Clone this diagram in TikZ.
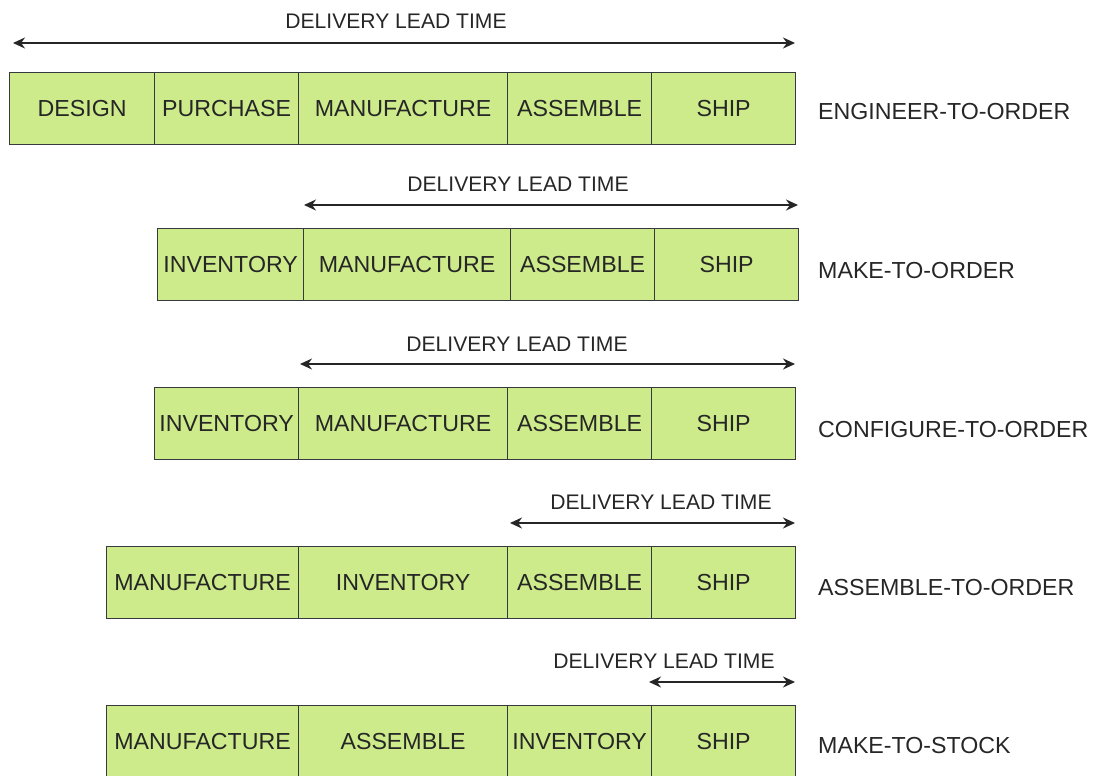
\documentclass[tikz,border=0pt]{standalone}
\usepackage{fontspec}
\setmainfont{Liberation Sans}
\usetikzlibrary{arrows.meta}
\definecolor{boxfill}{HTML}{CDEB8B}
\definecolor{boxline}{HTML}{36393D}
\definecolor{txt}{HTML}{262626}
\tikzset{
  stage/.style={draw=boxline, fill=boxfill, line width=1.2pt, anchor=north west,
    minimum height=72pt, inner sep=0pt, text=txt, font=\fontsize{23.2}{26}\selectfont},
  dlt/.style={text=txt, font=\fontsize{21.1}{24}\selectfont, inner sep=0pt},
  strat/.style={text=txt, font=\fontsize{23.2}{26}\selectfont, anchor=west, inner sep=0pt},
  leadarrow/.style={draw=black!85, line width=1.6pt,
    {Stealth[length=12pt,width=11pt]}-{Stealth[length=12pt,width=11pt]}}
}
\begin{document}
\begin{tikzpicture}[x=1pt,y=-1pt]
\useasboundingbox (0,0) rectangle (1098,776);
% Row 1
\node[stage, minimum width=145pt] (r1a) at (9,72) {DESIGN};
\node[stage, minimum width=144pt] (r1b) at (154,72) {PURCHASE};
\node[stage, minimum width=209pt] (r1c) at (298,72) {MANUFACTURE};
\node[stage, minimum width=144pt] (r1d) at (507,72) {ASSEMBLE};
\node[stage, minimum width=144pt] (r1e) at (651,72) {SHIP};
\node[strat] (s1) at (818,112) {ENGINEER-TO-ORDER};
\coordinate (a1l) at (13,43);
\coordinate (a1r) at (795,43);
\draw[leadarrow] (a1l) -- (a1r);
\node[dlt] (l1) at (396,21) {DELIVERY LEAD TIME};
% Row 2
\node[stage, minimum width=146pt] (r2a) at (157,228) {INVENTORY};
\node[stage, minimum width=207pt] (r2b) at (303,228) {MANUFACTURE};
\node[stage, minimum width=144pt] (r2c) at (510,228) {ASSEMBLE};
\node[stage, minimum width=144pt] (r2d) at (654,228) {SHIP};
\node[strat] (s2) at (818,271) {MAKE-TO-ORDER};
\coordinate (a2l) at (304,205);
\coordinate (a2r) at (798,205);
\draw[leadarrow] (a2l) -- (a2r);
\node[dlt] (l2) at (518,184) {DELIVERY LEAD TIME};
% Row 3
\node[stage, minimum width=144pt] (r3a) at (154,387) {INVENTORY};
\node[stage, minimum width=209pt] (r3b) at (298,387) {MANUFACTURE};
\node[stage, minimum width=144pt] (r3c) at (507,387) {ASSEMBLE};
\node[stage, minimum width=144pt] (r3d) at (651,387) {SHIP};
\node[strat] (s3) at (818,430) {CONFIGURE-TO-ORDER};
\coordinate (a3l) at (300,364);
\coordinate (a3r) at (795,364);
\draw[leadarrow] (a3l) -- (a3r);
\node[dlt] (l3) at (517,344) {DELIVERY LEAD TIME};
% Row 4
\node[stage, minimum width=192pt] (r4a) at (106,546) {MANUFACTURE};
\node[stage, minimum width=209pt] (r4b) at (298,546) {INVENTORY};
\node[stage, minimum width=144pt] (r4c) at (507,546) {ASSEMBLE};
\node[stage, minimum width=144pt] (r4d) at (651,546) {SHIP};
\node[strat] (s4) at (818,588) {ASSEMBLE-TO-ORDER};
\coordinate (a4l) at (510,523);
\coordinate (a4r) at (795,523);
\draw[leadarrow] (a4l) -- (a4r);
\node[dlt] (l4) at (661,502) {DELIVERY LEAD TIME};
% Row 5
\node[stage, minimum width=192pt] (r5a) at (106,705) {MANUFACTURE};
\node[stage, minimum width=209pt] (r5b) at (298,705) {ASSEMBLE};
\node[stage, minimum width=144pt] (r5c) at (507,705) {INVENTORY};
\node[stage, minimum width=144pt] (r5d) at (651,705) {SHIP};
\node[strat] (s5) at (818,746) {MAKE-TO-STOCK};
\coordinate (a5l) at (649,682);
\coordinate (a5r) at (795,682);
\draw[leadarrow] (a5l) -- (a5r);
\node[dlt] (l5) at (664,661) {DELIVERY LEAD TIME};
\end{tikzpicture}
\end{document}
